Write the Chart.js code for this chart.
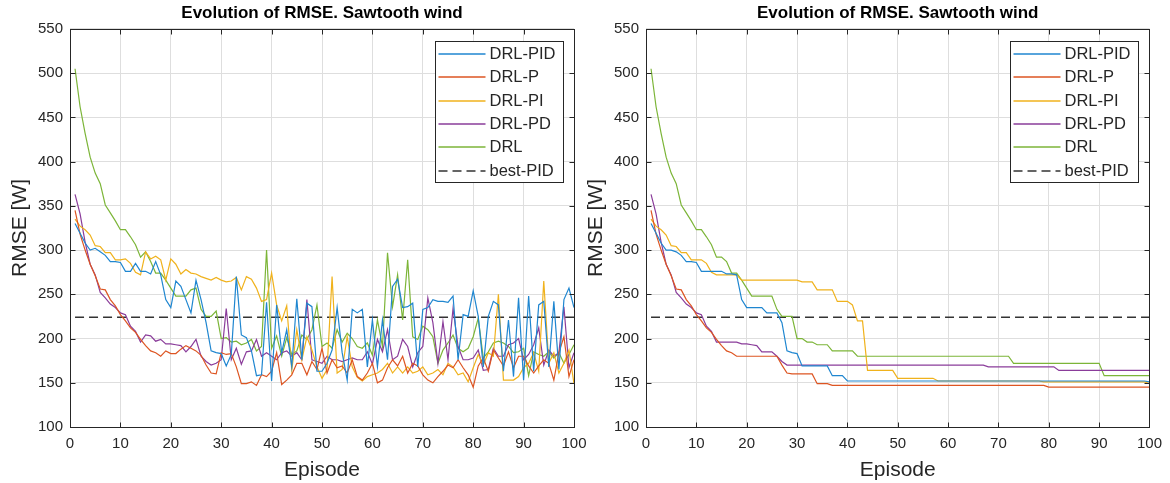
<!DOCTYPE html>
<html>
<head>
<meta charset="utf-8">
<script src="https://cdn.jsdelivr.net/npm/chart.js@4.4.0/dist/chart.umd.min.js"></script>
<style>
  body { margin: 0; background: #fff; }
  #c1 { position: absolute; left: 0; top: 0; }
  #c2 { position: absolute; left: 576px; top: 0; }
</style>
</head>
<body>
<canvas id="c1" width="600" height="483"></canvas>
<canvas id="c2" width="594" height="483"></canvas>
<script>
// episodes 1..100 (x categories)
var episodes = Array.from({ length: 100 }, function (_, i) { return i + 1; });
var seriesNames = ["DRL-PID", "DRL-P", "DRL-PI", "DRL-PD", "DRL"];
var seriesColors = ["#1f86d0", "#dd5522", "#f0b21c", "#8a3c9a", "#7cb538"];
var bestPid = 224;

// left panel: RMSE of each episode
var leftPid = [330,319,308,300,302,298,294,287,287,286, 276,276,285,276,276,273,287,272,244,235,
  265,259,244,229,266,244,218,186,184,183, 169,182,270,204,201,186,158,159,241,152,
  238,184,210,168,245,176,240,236,163,163, 172,187,235,184,153,233,229,233,168,221,
  168,221,176,259,267,235,236,240,168,233, 235,244,242,242,241,248,176,227,225,254,
  225,168,225,242,238,163,221,157,246,153, 248,163,238,242,168,242,165,244,257,235];
var leftP = [345,318,300,284,271,256,255,244,237,227, 220,212,207,199,192,186,184,180,186,183,
  183,188,192,189,186,181,170,161,160,184, 182,183,168,149,149,151,147,159,157,163,
  184,148,153,159,172,172,159,174,165,189, 161,176,167,169,161,176,157,153,161,172,
  150,153,167,176,169,180,161,172,169,159, 153,150,157,163,170,167,176,167,159,145,
  169,178,163,187,178,169,185,167,180,180, 169,161,169,176,172,153,184,202,157,176];
var leftPI = [335,327,323,317,305,304,297,297,289,289, 290,285,275,272,298,290,293,289,266,290,
  284,273,278,274,273,270,268,266,269,266, 264,265,269,255,270,267,257,242,244,274,
  238,220,237,164,210,176,202,187,168,155, 165,270,161,165,202,168,156,152,157,159,
  161,165,172,161,168,161,168,161,163,168, 159,161,165,159,172,168,159,161,151,167,
  182,170,184,180,250,153,153,153,157,167, 172,184,163,265,172,184,161,172,187,149];
var leftPD = [363,341,309,284,272,252,246,239,235,229, 227,214,208,196,204,203,197,199,194,194,
  193,192,185,191,199,180,174,170,172,176, 234,176,189,171,185,186,199,180,184,180,
  176,184,186,180,184,176,244,176,174,172, 180,176,176,174,176,178,176,176,185,171,
  199,185,210,176,180,199,191,168,184,191, 246,218,172,219,176,234,191,176,176,178,
  187,164,165,189,180,180,193,195,200,176, 182,193,212,170,187,180,184,236,167,184];
var leftDRL = [505,462,432,405,387,375,351,342,333,323, 323,315,306,292,298,287,274,274,266,257,
  248,248,248,255,257,233,225,225,231,200, 201,196,197,193,195,199,186,191,300,189,
  203,180,201,182,186,204,199,210,238,191, 195,189,210,196,206,200,191,189,195,181,
  221,191,297,236,272,221,289,202,199,214, 210,202,172,187,195,204,189,185,189,202,
  223,178,185,195,197,195,191,184,185,189, 158,185,182,180,185,178,184,172,182,193];

// right panel: best RMSE so far
var rightPid = [330,319,308,300,300,298,294,287,287,286, 276,276,276,276,276,273,273,272,244,235,
  235,235,235,229,229,229,218,186,184,183, 169,169,169,169,169,169,158,158,158,152,
  152,152,152,152,152,152,152,152,152,152, 152,152,152,152,152,152,152,152,152,152,
  152,152,152,152,152,152,152,152,152,152, 152,152,152,152,152,152,152,152,152,152,
  152,152,152,152,152,152,152,152,152,152, 152,152,152,152,152,152,152,152,152,151];
var rightP = [345,318,300,284,271,256,255,244,237,227, 220,212,207,199,192,186,184,180,180,180,
  180,180,180,180,180,180,170,161,160,160, 160,160,160,149,149,149,147,147,147,147,
  147,147,147,147,147,147,147,147,147,147, 147,147,147,147,147,147,147,147,147,147,
  147,147,147,147,147,147,147,147,147,147, 147,147,147,147,147,147,147,147,147,145,
  145,145,145,145,145,145,145,145,145,145, 145,145,145,145,145,145,145,145,145,145];
var rightPI = [335,327,323,317,305,304,297,297,289,289, 289,285,275,272,272,272,272,272,266,266,
  266,266,266,266,266,266,266,266,266,266, 264,264,264,255,255,255,255,242,242,242,
  238,220,220,164,164,164,164,164,164,155, 155,155,155,155,155,155,155,152,152,152,
  152,152,152,152,152,152,152,152,152,152, 152,152,152,152,152,152,152,152,151,151,
  151,151,151,151,151,151,151,151,151,151, 151,151,151,151,151,151,151,151,151,149];
var rightPD = [363,341,309,284,272,252,246,239,235,229, 227,214,208,196,196,196,196,196,194,194,
  193,192,185,185,185,180,174,170,170,170, 170,170,170,170,170,170,170,170,170,170,
  170,170,170,170,170,170,170,170,170,170, 170,170,170,170,170,170,170,170,170,170,
  170,170,170,170,170,170,170,168,168,168, 168,168,168,168,168,168,168,168,168,168,
  168,164,164,164,164,164,164,164,164,164, 164,164,164,164,164,164,164,164,164,164];
var rightDRL = [505,462,432,405,387,375,351,342,333,323, 323,315,306,292,292,287,274,274,266,257,
  248,248,248,248,248,233,225,225,225,200, 200,196,196,193,193,193,186,186,186,186,
  186,180,180,180,180,180,180,180,180,180, 180,180,180,180,180,180,180,180,180,180,
  180,180,180,180,180,180,180,180,180,180, 180,180,172,172,172,172,172,172,172,172,
  172,172,172,172,172,172,172,172,172,172, 158,158,158,158,158,158,158,158,158,158];

var ink = "#262626";
Chart.defaults.font.family = "'Liberation Sans', Arial, sans-serif";
Chart.defaults.color = ink;

// box round the axes with inward ticks on all four sides
var frame = {
  id: "frame",
  afterDatasetsDraw: function (chart) {
    var ctx = chart.ctx, a = chart.chartArea;
    var l = Math.round(a.left) + 0.5, r = Math.round(a.right) + 0.5;
    var t = Math.round(a.top) + 0.5, b = Math.round(a.bottom) + 0.5;
    ctx.save();
    ctx.strokeStyle = ink;
    ctx.lineWidth = 1;
    ctx.strokeRect(l, t, r - l, b - t);
    ctx.beginPath();
    chart.scales.x.ticks.forEach(function (tk) {
      var px = Math.round(chart.scales.x.getPixelForValue(tk.value)) + 0.5;
      ctx.moveTo(px, b); ctx.lineTo(px, b - 5);
      ctx.moveTo(px, t); ctx.lineTo(px, t + 5);
    });
    chart.scales.y.ticks.forEach(function (tk) {
      var py = Math.round(chart.scales.y.getPixelForValue(tk.value)) + 0.5;
      ctx.moveTo(l, py); ctx.lineTo(l + 5, py);
      ctx.moveTo(r, py); ctx.lineTo(r - 5, py);
    });
    ctx.stroke();
    ctx.restore();
  }
};

// MATLAB style legend in the upper right corner
var boxLegend = {
  id: "boxLegend",
  afterDraw: function (chart) {
    var ctx = chart.ctx, a = chart.chartArea;
    var w = 128, h = 141;
    var x = Math.round(a.right - 139) + 0.5, y = Math.round(a.top + 12) + 0.5;
    ctx.save();
    ctx.fillStyle = "#fff";
    ctx.fillRect(x, y, w, h);
    ctx.strokeStyle = ink;
    ctx.lineWidth = 1;
    ctx.strokeRect(x, y, w, h);
    ctx.font = "16.5px 'Liberation Sans', Arial, sans-serif";
    ctx.textBaseline = "middle";
    chart.data.datasets.forEach(function (ds, i) {
      var ly = Math.round(y + 12.5 + i * 23.3);
      ctx.strokeStyle = ds.borderColor;
      ctx.lineWidth = ds.borderDash ? 1.6 : 1.5;
      ctx.setLineDash(ds.borderDash || []);
      ctx.beginPath();
      ctx.moveTo(x + 3, ly);
      ctx.lineTo(x + 50, ly);
      ctx.stroke();
      ctx.setLineDash([]);
      ctx.fillStyle = ink;
      ctx.fillText(ds.label, x + 54, ly);
    });
    ctx.restore();
  }
};

function makeChart(id, series, rightPad) {
  var datasets = series.map(function (vals, k) {
    return {
      label: seriesNames[k],
      data: episodes.map(function (e, i) { return { x: e, y: vals[i] }; }),
      borderColor: seriesColors[k],
      borderWidth: 1.2,
      pointRadius: 0,
      tension: 0
    };
  });
  datasets.push({
    label: "best-PID",
    data: [{ x: episodes[0], y: bestPid }, { x: episodes[episodes.length - 1], y: bestPid }],
    borderColor: "#333333",
    borderWidth: 1.6,
    borderDash: [9, 5],
    pointRadius: 0
  });
  return new Chart(document.getElementById(id), {
    type: "line",
    data: { datasets: datasets },
    plugins: [frame, boxLegend],
    options: {
      responsive: false,
      animation: false,
      layout: { padding: { left: 0, right: rightPad, top: 0, bottom: 0 } },
      plugins: {
        legend: { display: false },
        tooltip: { enabled: false },
        title: {
          display: true,
          text: "Evolution of RMSE. Sawtooth wind",
          fullSize: false,
          color: "#000",
          font: { size: 17, weight: "bold" },
          padding: { top: 3.5, bottom: 5 }
        }
      },
      scales: {
        x: {
          type: "linear",
          min: 0, max: 100,
          afterFit: function (s) { s.height = 56; },
          ticks: { stepSize: 10, font: { size: 15 }, padding: 8, maxRotation: 0 },
          grid: { color: "#dedede", drawTicks: false },
          border: { display: false },
          title: { display: true, text: "Episode", font: { size: 21 }, padding: { top: 0, bottom: 0 } }
        },
        y: {
          min: 100, max: 550,
          afterFit: function (s) { s.width = 70; },
          ticks: { stepSize: 50, font: { size: 15 }, padding: 7 },
          grid: { color: "#dedede", drawTicks: false },
          border: { display: false },
          title: { display: true, text: "RMSE [W]", font: { size: 21 }, padding: { top: 7.5, bottom: 0 } }
        }
      }
    }
  });
}

makeChart("c1", [leftPid, leftP, leftPI, leftPD, leftDRL], 26);
makeChart("c2", [rightPid, rightP, rightPI, rightPD, rightDRL], 19);
</script>
</body>
</html>
